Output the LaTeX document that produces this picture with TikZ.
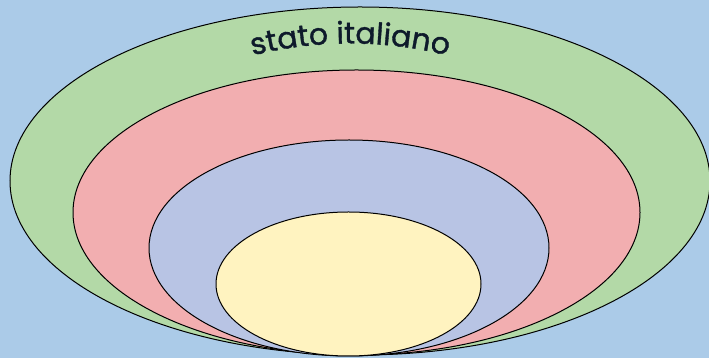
\documentclass[tikz,border=0pt]{standalone}
\usepackage{fontspec}
\newfontfamily\titlefont[FakeBold=1.2]{Poppins}
\usetikzlibrary{decorations.text}
\definecolor{bgblue}{HTML}{ABCBE8}
\definecolor{ringgreen}{HTML}{B3D9A7}
\definecolor{ringpink}{HTML}{F2AEB0}
\definecolor{ringblue}{HTML}{B8C4E4}
\definecolor{ringyellow}{HTML}{FFF3C0}
\definecolor{textnavy}{HTML}{0E1A2B}
\tikzset{ring/.style={draw=black, line width=1pt}}
\begin{document}
\begin{tikzpicture}[x=1pt,y=1pt]
\useasboundingbox (0,0) rectangle (709,358);
\fill[bgblue] (0,0) rectangle (709,358);
\path[ring, fill=ringgreen] (360,177) ellipse[x radius=350, y radius=174];
\path[ring, fill=ringpink] (356.5,145.5) ellipse[x radius=283.5, y radius=142.5];
\path[ring, fill=ringblue] (349,110) ellipse[x radius=200, y radius=108];
\path[ring, fill=ringyellow] (348.5,74) ellipse[x radius=132.5, y radius=72];
\coordinate (arcstart) at (240,299);
\path[decorate, decoration={text along path, text align=center,
  text={|\titlefont\fontsize{30}{30}\selectfont\color{textnavy}|stato italiano}}]
  (arcstart) arc[start angle=106, end angle=74, radius=400];
\end{tikzpicture}
\end{document}
